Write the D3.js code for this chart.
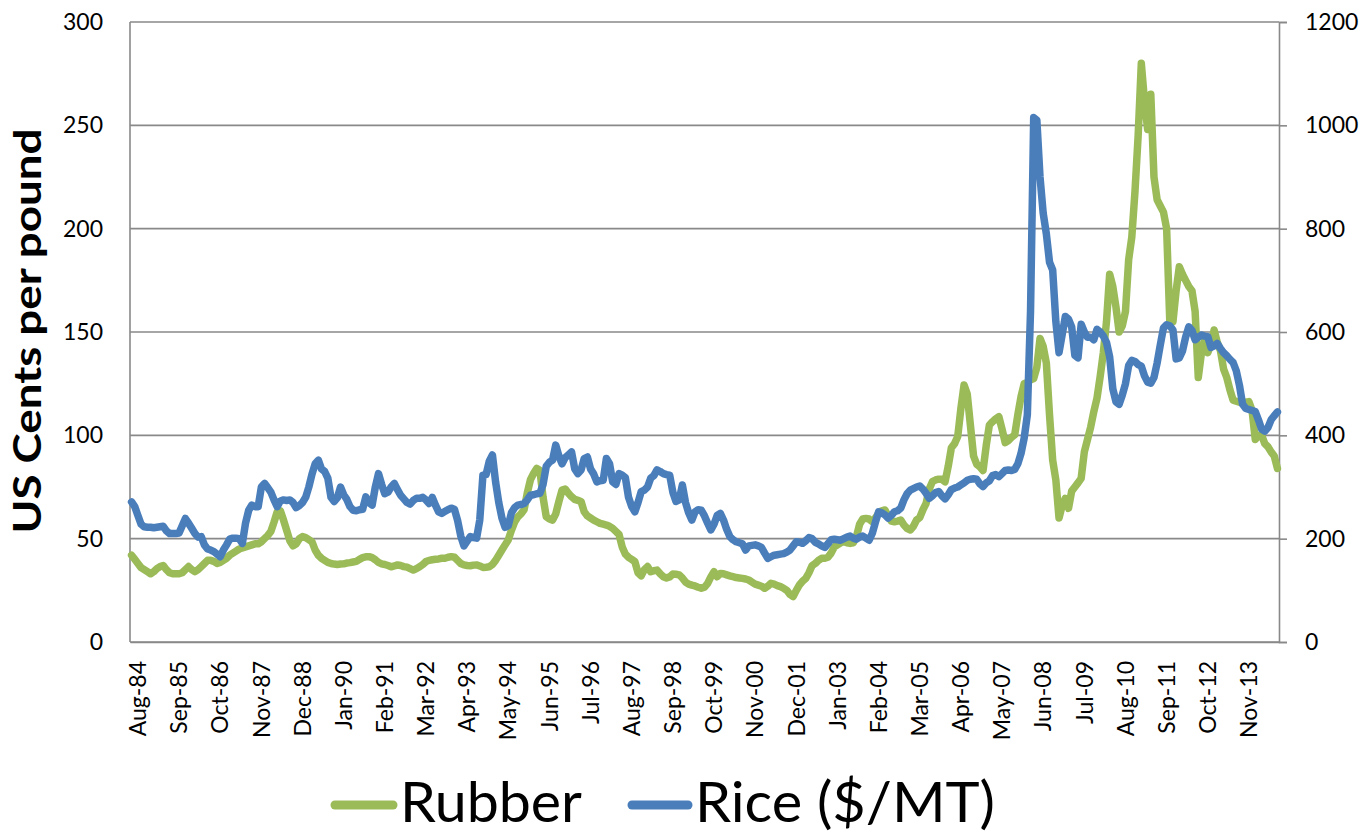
<!DOCTYPE html>
<html><head><meta charset="utf-8">
<script src="https://cdn.jsdelivr.net/npm/d3@7"></script>
<style>
body{margin:0;background:#fff;}
svg{display:block;}
text{font-family:Lato,"Open Sans",sans-serif;fill:#000;}
</style>
</head><body>
<svg id="chart" width="1365" height="835"></svg>
<script>
// ---------------- data ----------------
const startMonth = new Date(1984, 7, 1); // Aug-84, monthly
const rubber = [
42,40,38,36,35,34,33,34,35.5,36.5,
37,35,33.5,33,33,33,33.5,35,36.5,35,
34,35,36.5,38,39.5,39.5,39,38,38.5,39.5,
40.5,42,43,44,45,45.5,46,46.5,47,47.5,
47.5,48.5,50,51.5,53.5,58,63,63.5,59,54,
49,46.5,47.5,50,51,50.5,49.5,48.5,44.5,42,
40.5,39.5,38.5,38,37.7,37.5,37.7,37.8,38.2,38.4,
38.7,39,40,40.8,41.2,41.3,40.8,39.8,38.5,37.8,
37.5,37,36.4,36.8,37.3,37,36.5,36.2,35.5,34.8,
35.5,36.4,37.5,38.9,39.5,39.8,40,40.2,40.5,40.5,
41,41.3,41,39.5,38,37.3,37,36.9,37.2,37.3,
36.8,36.1,36.2,36.4,37.5,39.5,42,44.5,47,49.4,
54,58,60.5,62,64,72,78.5,81.5,84,83,
70,60.6,59.5,59,62,68,73.5,74,72,70.3,
69,68.5,68,63,61,60,59,58.2,57.4,57,
56.6,56,55,53.5,52,46,42.5,41,40,38.9,
33.5,32,35,36.5,34,34.5,34.8,33,31.6,31,
31.5,32.9,32.8,32.5,31,29,28,27.5,27.1,26.5,
26,26.5,28.4,31.5,34,31.6,33.2,33,32.5,32,
31.6,31.2,31,30.8,30.5,30,29,28,27.5,27,
26,27,28.4,28,27.3,26.8,26,25,23,22,
25,27.6,29.5,30.8,33.5,37,38,39.5,40.5,40.5,
41,43,46,47,48,48.5,48,47.7,48,51,
57,59.5,59.8,59.5,58.2,60,62.3,63.5,63.9,61,
58.5,58.2,58.5,59,56.6,55,54.2,56,59,60.2,
64,67,74,77.6,78.4,78.8,78.7,77.5,85,94,
96,99.4,113,124.4,120,105,90,86,84.8,83,
95,105,106.6,108,109,103,96.5,97.5,99,100.2,
110,118.7,125,125.5,126.8,127.5,133,146.9,143,135,
110,88,78.4,60,66,69.5,64.7,73,75,77,
79.2,92,98,104,111.5,118,128.4,140,155,178,
172,162,150,153,160,185,196,218,245,280,
262,248,265,225,214,211,208,200,155,155,
170,181.6,178,175,172,170,160,128,140,146,
140,144,151,145,141,132,128,122,117,116.5,
116,115.5,116,116.3,112,98,100,100.2,96,94.5,
92,90,84
];
const rice = [
271,262,245,228,223,222,222,221,222,223,
224,215,210,210,210,211,225,239,230,220,
210,203,204,188,180,178,175,170,165,178,
188,199,201,201,200,191,230,255,265,262,
262,300,307,299,290,275,262,273,275,274,
275,270,260,264,270,280,300,325,345,352,
335,330,317,280,272,279,300,285,276,262,
255,254,256,257,281,270,265,300,326,305,
287,290,300,307,295,284,277,270,267,274,
278,278,280,275,268,280,265,252,249,253,
256,259,257,235,205,186,195,204,202,201,
236,323,324,350,362,310,270,240,222,225,
250,260,265,266,268,275,284,285,287,288,
305,340,348,352,381,360,345,357,362,368,
335,326,333,355,358,335,325,310,312,313,
355,345,310,305,326,323,318,280,262,252,
270,291,294,300,317,322,333,330,326,324,
323,290,272,275,304,270,250,236,252,256,
255,244,230,217,228,245,249,236,218,204,
198,194,192,190,178,186,187,188,186,183,
172,162,165,168,169,170,171,174,178,186,
194,193,191,196,202,200,193,190,186,183,
190,198,199,198,197,200,203,205,201,199,
203,205,201,197,210,232,252,250,246,240,
245,252,254,259,275,287,294,297,300,302,
296,288,278,283,289,291,283,277,285,295,
298,300,304,308,313,315,316,315,306,301,
308,312,322,324,320,326,332,333,332,334,
345,365,395,440,640,1015,1010,900,830,790,
735,720,620,560,595,630,625,610,555,550,
615,600,590,590,585,605,600,592,580,552,
490,465,460,478,500,535,545,543,537,534,
515,503,501,512,540,575,608,614,612,604,
548,550,563,590,610,603,585,590,594,592,
591,570,573,578,568,560,554,547,541,525,
497,460,452,450,448,446,430,412,408,415,
430,438,445
];
const leftTicks = [0,50,100,150,200,250,300];
const rightTicks = [0,200,400,600,800,1000,1200];
const tickLabels = ["Aug-84","Sep-85","Oct-86","Nov-87","Dec-88","Jan-90","Feb-91","Mar-92",
  "Apr-93","May-94","Jun-95","Jul-96","Aug-97","Sep-98","Oct-99","Nov-00","Dec-01","Jan-03",
  "Feb-04","Mar-05","Apr-06","May-07","Jun-08","Jul-09","Aug-10","Sep-11","Oct-12","Nov-13"];
const seriesNames = ["Rubber","Rice ($/MT)"];
const seriesColors = ["#9BBB59","#4A7EBB"];
const yTitle = "US  Cents per pound";

// ---------------- layout ----------------
const fmt = d3.timeFormat("%b-%y");
const categories = d3.range(rubber.length).map(i => fmt(d3.timeMonth.offset(startMonth, i)));
const L = 130, R = 1279, T = 22, B = 642;
const gridColor = "#898989";

const svg = d3.select("#chart");
const x = d3.scaleBand().domain(categories).range([L, R]);
const cx = c => x(c) + x.bandwidth() / 2;
const yL = d3.scaleLinear().domain([0, 300]).range([B, T]);
const yR = d3.scaleLinear().domain([0, 1200]).range([B, T]);

// gridlines
svg.append("g").selectAll("line").data(leftTicks).join("line")
  .attr("x1", L).attr("x2", R)
  .attr("y1", d => yL(d)).attr("y2", d => yL(d))
  .attr("stroke", gridColor).attr("stroke-width", 1.6);

// left frame line
svg.append("line").attr("x1", L).attr("x2", L).attr("y1", T).attr("y2", B)
  .attr("stroke", gridColor).attr("stroke-width", 1.6);

// left axis
const gl = svg.append("g").attr("transform", `translate(${L},0)`)
  .call(d3.axisLeft(yL).tickValues(leftTicks).tickSize(0).tickPadding(27).tickFormat(d3.format("d")));
gl.select(".domain").remove();
gl.selectAll("text").style("font-size", "23px").style("font-family", "Lato");

// right axis
const gr = svg.append("g").attr("transform", `translate(${R},0)`)
  .call(d3.axisRight(yR).tickValues(rightTicks).tickSize(8).tickPadding(18).tickFormat(d3.format("d")));
gr.select(".domain").attr("stroke", gridColor).attr("stroke-width", 1.6);
gr.selectAll(".tick line").attr("stroke", gridColor).attr("stroke-width", 1.6);
gr.selectAll("text").style("font-size", "23px").style("font-family", "Lato");

// bottom axis
const gb = svg.append("g").attr("transform", `translate(0,${B})`)
  .call(d3.axisBottom(x).tickValues(tickLabels).tickSize(0));
gb.select(".domain").attr("stroke", gridColor).attr("stroke-width", 1.6);
gb.selectAll("text")
  .style("font-size", "23px").style("font-family", "Lato")
  .attr("transform", "rotate(-90)")
  .attr("x", -19).attr("y", 6.5).attr("dy", "0.35em")
  .style("text-anchor", "end");

// series lines
const series = [rubber, rice];
const scales = [yL, yR];
series.forEach((vals, k) => {
  const line = d3.line()
    .x((d, i) => cx(categories[i]))
    .y(d => scales[k](d));
  svg.append("path").datum(vals)
    .attr("d", line)
    .attr("fill", "none")
    .attr("stroke", seriesColors[k])
    .attr("stroke-width", 7.5)
    .attr("stroke-linejoin", "round")
    .attr("stroke-linecap", "round");
});

// y title
svg.append("text")
  .attr("transform", "translate(41,331) rotate(-90)")
  .attr("text-anchor", "middle")
  .attr("textLength", 405).attr("lengthAdjust", "spacingAndGlyphs")
  .style("font-size", "38px").style("font-weight", "bold")
  .text(yTitle);

// legend
const legendItems = [
  {x0: 335, x1: 393, tx: 400, tl: 182},
  {x0: 632, x1: 688, tx: 695, tl: 300}
];
legendItems.forEach((it, k) => {
  svg.append("line").attr("x1", it.x0).attr("x2", it.x1)
    .attr("y1", 805).attr("y2", 805)
    .attr("stroke", seriesColors[k]).attr("stroke-width", 9)
    .attr("stroke-linecap", "round");
  svg.append("text").attr("x", it.tx).attr("y", 822)
    .attr("textLength", it.tl).attr("lengthAdjust", "spacingAndGlyphs")
    .style("font-size", "56px")
    .text(seriesNames[k]);
});
</script>
</body></html>
